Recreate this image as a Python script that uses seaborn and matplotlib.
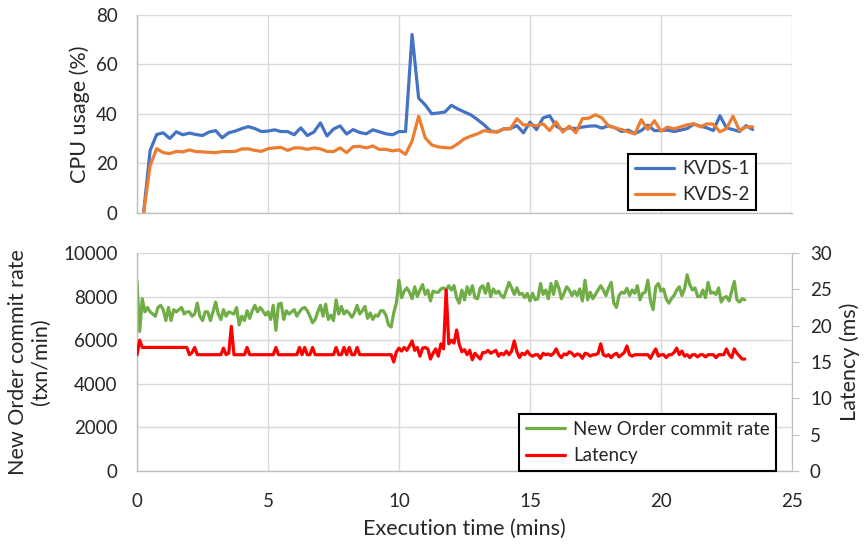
import matplotlib
matplotlib.use("Agg")
import matplotlib.pyplot as plt
import seaborn as sns
import numpy as np
import pandas as pd

# CPU usage, one sample every 15 s starting at 0.25 min
cpu_time = np.arange(1, 95) * 0.25
kvds1 = [0, 25.3, 31.7, 32.4, 30.1, 32.8, 31.6, 32.3, 31.7, 31.3,
         32.7, 33.3, 30.4, 32.4, 33.1, 34.1, 34.9, 34.1, 32.9, 33.1,
         33.6, 32.9, 32.9, 31.6, 34.4, 31.3, 32.7, 36.4, 31.1, 33.9,
         35.2, 31.9, 33.7, 32.5, 32.0, 33.6, 32.8, 32.0, 31.6, 32.9,
         32.9, 72.1, 46.4, 43.7, 40.1, 40.4, 40.8, 43.5, 42.0, 40.8,
         39.6, 37.7, 35.6, 33.1, 32.7, 34.0, 34.1, 35.3, 32.4, 36.7,
         33.7, 38.4, 39.3, 35.1, 33.5, 34.4, 34.1, 34.7, 35.1, 35.2,
         34.3, 35.3, 34.4, 32.9, 33.5, 32.1, 33.3, 35.5, 33.3, 33.3,
         33.5, 32.9, 33.5, 34.1, 35.9, 35.1, 34.4, 33.3, 39.3, 34.4,
         33.7, 32.9, 35.3, 33.7]
kvds2 = [0, 19.1, 26.0, 24.4, 24.0, 24.9, 24.7, 25.5, 24.8, 24.7,
         24.5, 24.4, 24.8, 24.8, 24.9, 25.9, 25.9, 25.3, 24.9, 26.0,
         26.3, 26.5, 25.3, 26.3, 26.3, 25.7, 26.3, 25.9, 24.9, 24.8,
         26.3, 24.4, 26.8, 26.9, 26.3, 27.1, 25.7, 25.7, 25.1, 25.5,
         23.7, 29.1, 39.1, 30.4, 27.5, 26.7, 26.4, 26.3, 28.0, 30.0,
         31.1, 32.0, 33.3, 32.8, 32.8, 34.0, 34.0, 38.1, 35.6, 35.6,
         35.3, 36.0, 33.3, 36.8, 32.7, 35.1, 32.4, 38.1, 38.3, 39.7,
         38.4, 35.1, 34.4, 33.7, 32.8, 31.9, 37.7, 33.7, 37.3, 33.1,
         34.7, 34.0, 34.8, 35.6, 36.1, 34.8, 36.0, 35.9, 32.8, 34.1,
         39.1, 33.3, 34.8, 34.8]

# throughput / latency, one sample every 6 s
tp_time = np.arange(0, 233) * 0.1
commit_rate = [
    8700, 6400, 7900, 7300, 7500, 7300, 7200, 7100, 7500, 7600,
    7400, 6900, 7500, 6900, 7400, 7300, 7400, 7500, 7200, 7300,
    7300, 7100, 7200, 7700, 7100, 6900, 7300, 7300, 6900, 7300,
    7750, 7200, 6950, 7400, 7100, 7300, 7250, 7200, 7500, 6700,
    7100, 6900, 7350, 7000, 7350, 7600, 7300, 7500, 7350, 7150,
    7300, 6950, 7600, 6450, 7650, 7700, 6950, 7350, 7200, 7300,
    7400, 7100, 7300, 7450, 7500, 7350, 7100, 6800, 6950, 7300,
    7600, 7100, 7650, 6950, 7150, 6900, 7850, 7200, 7550, 7200,
    7350, 7230, 7050, 7250, 7600, 7200, 7350, 7550, 7000, 7250,
    6950, 7150, 7100, 7350, 7350, 7150, 6700, 6600, 7250, 7700,
    8750, 7950, 8250, 8400, 8200, 7900, 8450, 8000, 8300, 8550,
    8100, 8300, 7800, 8250, 8200, 8200, 8350, 8400, 8300, 8500,
    8300, 8500, 7950, 7700, 8300, 7850, 8450, 8100, 8500, 7950,
    7900, 8400, 8500, 8150, 8600, 8000, 8350, 8150, 8250, 8050,
    7950, 8300, 8650, 8400, 8100, 8400, 8100, 8150, 7950, 8150,
    7800, 8150, 7850, 7900, 8600, 8100, 8300, 7900, 8600, 8100,
    8700, 8400, 7900, 8150, 8450, 8300, 8050, 8250, 8050, 8350,
    7800, 8750, 7850, 8200, 7900, 8100, 8300, 8500, 8300, 8050,
    8400, 8650, 7700, 7500, 8050, 8200, 8150, 8380, 8050, 8300,
    8150, 8500, 7850, 8150, 8200, 8750, 7800, 7400, 8450, 8600,
    8250, 8350, 7900, 7700, 7900, 8050, 8300, 8450, 8050, 8350,
    9000, 8550, 8300, 8400, 8000, 8000, 8300, 7950, 8650, 8150,
    8200, 8100, 8400, 7750, 7950, 8000, 7800, 8250, 8700, 7850,
    7750, 7900, 7850]
latency = [
    16.0, 18.0, 17, 17, 17, 17, 17, 17, 17, 17,
    17, 17, 17, 17, 17, 17, 17, 17, 17, 17,
    16, 16.3, 17, 16, 16, 16, 16, 16, 16, 16,
    16, 16, 16, 16.9, 16, 16.2, 19.9, 16, 16, 16,
    16, 16, 17, 16, 16, 16, 16, 16, 16, 16,
    16, 16, 16, 17, 16, 16, 16, 16, 16, 16,
    16, 16, 17, 16, 17, 16, 16, 17, 16, 16,
    16, 16, 16, 16, 16, 16, 17, 16, 16, 17,
    16, 17, 16, 16, 17, 16, 16, 16, 16, 16,
    16, 16, 16, 16, 16, 16, 16, 16, 15.0, 16.4,
    16.9, 16.5, 17.0, 16.6, 17.2, 17.9, 16.6, 17.0, 15.8, 16.9,
    17.0, 16.8, 15.4, 16.2, 16.8, 15.8, 17.5, 16.8, 24.9, 17.5,
    18.0, 17.6, 19.4, 17.4, 16.4, 16.7, 16.0, 16.6, 15.3, 16.2,
    15.8, 15.4, 16.3, 16.3, 16.6, 16.2, 16.4, 16.6, 15.8, 16.2,
    16.0, 16.5, 16.0, 16.5, 17.9, 16.4, 15.6, 16.2, 16.0, 16.5,
    16.0, 15.8, 16.0, 16.0, 15.5, 16.2, 16.0, 16.1, 15.9, 16.2,
    16.8, 16.0, 15.6, 16.1, 16.0, 16.4, 16.2, 15.8, 16.1, 16.0,
    15.5, 16.2, 16.1, 15.8, 16.0, 16.0, 16.2, 17.5, 16.0, 15.8,
    16.0, 15.6, 16.0, 16.2, 15.7, 16.0, 16.3, 17.2, 16.0, 15.8,
    16.0, 16.0, 16.0, 16.0, 16.0, 16.0, 15.5, 16.2, 16.8, 15.8,
    16.0, 16.0, 15.6, 16.0, 16.0, 16.3, 16.9, 16.0, 16.5, 15.8,
    16.0, 15.6, 16.0, 16.0, 15.7, 16.0, 16.0, 15.7, 16.0, 16.0,
    16.0, 15.6, 16.0, 16.0, 16.0, 16.8, 16.0, 15.6, 16.8, 16.2,
    15.8, 15.4, 15.4]

GRID = '#D9D9D9'
AXIS = '#BFBFBF'
FS = 13.5      # ticks and legends
LFS = 15.5     # axis titles

sns.set_style('white')
plt.rcParams['font.family'] = ['Lato', 'DejaVu Sans']
plt.rcParams['font.size'] = FS

fig = plt.figure(figsize=(8.64, 5.47), dpi=100)
ax_cpu = fig.add_axes([0.1586, 0.6106, 0.758, 0.362])
ax_tp = fig.add_axes([0.1586, 0.139, 0.758, 0.3985])
ax_lat = ax_tp.twinx()

cpu_df = pd.DataFrame({'time': np.concatenate([cpu_time, cpu_time]),
                       'cpu': kvds1 + kvds2,
                       'node': ['KVDS-1'] * len(kvds1) + ['KVDS-2'] * len(kvds2)})
sns.lineplot(data=cpu_df, x='time', y='cpu', hue='node', ax=ax_cpu,
             palette=['#4472C4', '#ED7D31'], lw=2.3)
sns.lineplot(x=tp_time, y=commit_rate, ax=ax_tp, color='#70AD47', lw=2.3,
             label='New Order commit rate')
sns.lineplot(x=tp_time, y=latency, ax=ax_lat, color='#FF0000', lw=2.3,
             label='Latency')


def style_axes(ax):
    ax.set_xlim(0, 25)
    ax.set_xticks(range(0, 26, 5))
    ax.grid(True, color=GRID, lw=1)
    ax.set_axisbelow(True)
    for side in ['top', 'right']:
        ax.spines[side].set_visible(False)
    for side in ['left', 'bottom']:
        ax.spines[side].set_color(AXIS)
        ax.spines[side].set_linewidth(1)
    ax.tick_params(axis='both', length=0, labelsize=FS)
    ax.tick_params(axis='y', pad=14)


def boxed_legend(ax, handles, labels, anchor):
    leg = ax.legend(handles, labels, loc='lower right', bbox_to_anchor=anchor,
                    fontsize=FS, frameon=True, fancybox=False, edgecolor='black',
                    framealpha=1, handlelength=2.1, borderpad=0.35,
                    labelspacing=0.5, handletextpad=0.4, borderaxespad=0)
    leg.get_frame().set_linewidth(1.5)
    return leg


style_axes(ax_cpu)
ax_cpu.set_ylim(0, 80)
ax_cpu.set_yticks(range(0, 81, 20))
ax_cpu.tick_params(axis='x', labelbottom=False)
ax_cpu.set_xlabel('')
ax_cpu.set_ylabel('CPU usage (%)', fontsize=LFS)
ax_cpu.yaxis.set_label_coords(-0.0715, 0.5)
h, l = ax_cpu.get_legend_handles_labels()
boxed_legend(ax_cpu, h, l, (0.945, 0.015))

style_axes(ax_tp)
ax_tp.set_ylim(0, 10000)
ax_tp.set_yticks(range(0, 10001, 2000))
ax_tp.tick_params(axis='x', pad=16)
ax_tp.set_ylabel('New Order commit rate\n(txn/min)', fontsize=LFS, linespacing=1.15)
ax_tp.yaxis.set_label_coords(-0.132, 0.5)
ax_tp.set_xlabel('Execution time (mins)', fontsize=LFS)
ax_tp.xaxis.set_label_coords(0.5, -0.222)

ax_lat.set_ylim(0, 30)
ax_lat.set_yticks(range(0, 31, 5))
for side in ['top', 'left', 'bottom']:
    ax_lat.spines[side].set_visible(False)
ax_lat.spines['right'].set_color(AXIS)
ax_lat.tick_params(axis='y', length=5, color=AXIS, direction='out', pad=8, labelsize=FS)
ax_lat.set_ylabel('Latency (ms)', fontsize=LFS)
ax_lat.yaxis.set_label_coords(1.073, 0.5)
ax_lat.grid(False)

ax_tp.get_legend().remove()
h1, l1 = ax_tp.get_legend_handles_labels()
h2, l2 = ax_lat.get_legend_handles_labels()
ax_lat.get_legend().remove()
boxed_legend(ax_lat, h1 + h2, l1 + l2, (0.976, 0.0))

fig.savefig('out.png', dpi=100)
